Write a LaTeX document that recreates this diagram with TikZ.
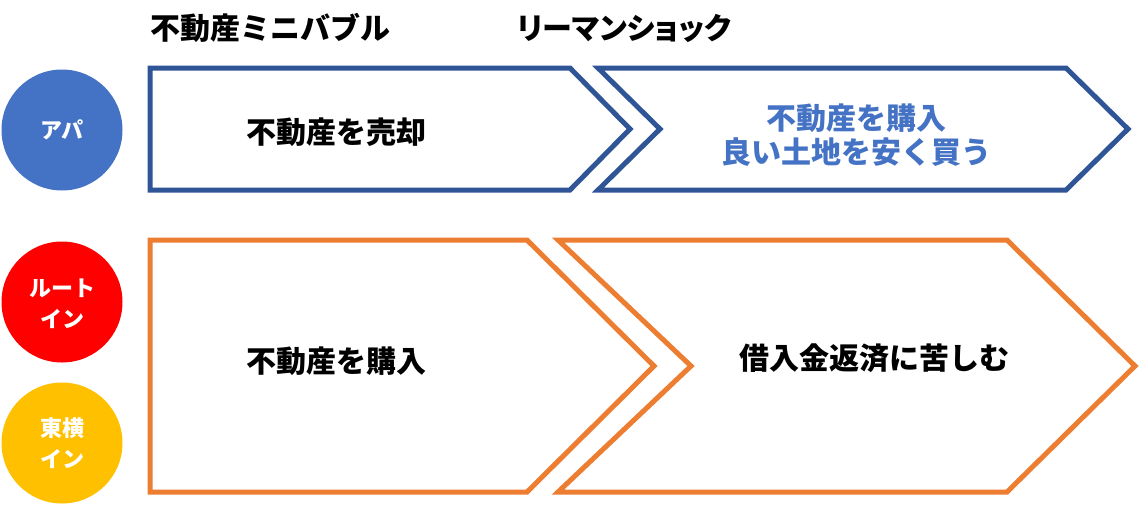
\documentclass[tikz,border=0pt]{standalone}
\usepackage{fontspec}
\setmainfont{Noto Sans CJK JP}
\newfontfamily\jpprop{Noto Sans CJK JP}[RawFeature=+palt]
\usepackage{xcolor}
\usetikzlibrary{positioning}

\definecolor{apablue}{HTML}{4472C4}
\definecolor{apaline}{HTML}{2F5597}
\definecolor{routered}{HTML}{FF0000}
\definecolor{toyokoyellow}{HTML}{FFC000}
\definecolor{loanorange}{HTML}{ED7D31}

\begin{document}
\begin{tikzpicture}[x=1pt, y=-1pt]
        % Define styles for texts, arrows and circles
        \tikzstyle{phase} = [font=\fontsize{30}{34}\selectfont\bfseries, inner sep=0pt, align=center]
        \tikzstyle{chevron} = [line width=5pt, miter limit=20, fill=white]
        \tikzstyle{hotel} = [circle, minimum size=121pt, inner sep=0pt, text=white,
                             align=center, font=\fontsize{22}{31}\selectfont\bfseries]
        \useasboundingbox (0,0) rectangle (1140,504);

        % Period titles
        \node (minibubble) [phase, anchor=west] at (150,28) {不動産ミニバブル};
        \node (lehman) [phase, font=\fontsize{30}{34}\jpprop\bfseries] at (624,28) {リーマンショック};

        % Hotel circles
        \node (apa) [hotel, fill=apablue] at (62,130) {アパ};
        \node (route) [hotel, fill=routered] at (62,302) {\\[-10pt]ルート\\イン};
        \node (toyoko) [hotel, fill=toyokoyellow] at (62,443) {東横\\イン};

        % Blue chevrons
        \draw [chevron, draw=apaline] (150,68) -- (570,68) -- (630,129) -- (570,190) -- (150,190) -- cycle;
        \draw [chevron, draw=apaline] (598,68) -- (1066,68) -- (1128,129) -- (1066,190) -- (598,190) -- (660,129) -- cycle;

        % Orange chevrons
        \draw [chevron, draw=loanorange] (150,240) -- (527,240) -- (654,366) -- (527,492) -- (150,492) -- cycle;
        \draw [chevron, draw=loanorange] (558,240) -- (1007,240) -- (1135,366) -- (1007,492) -- (558,492) -- (691,366) -- cycle;

        % Texts in the chevrons
        \node (apasell) [phase] at (336,132) {不動産を売却};
        \node (apabuy) [phase, text=apablue] at (856,135) {不動産を購入\\良い土地を安く買う};
        \node (routebuy) [phase] at (336,361) {不動産を購入};
        \node (routeloan) [phase] at (874,358) {借入金返済に苦しむ};
\end{tikzpicture}
\end{document}
